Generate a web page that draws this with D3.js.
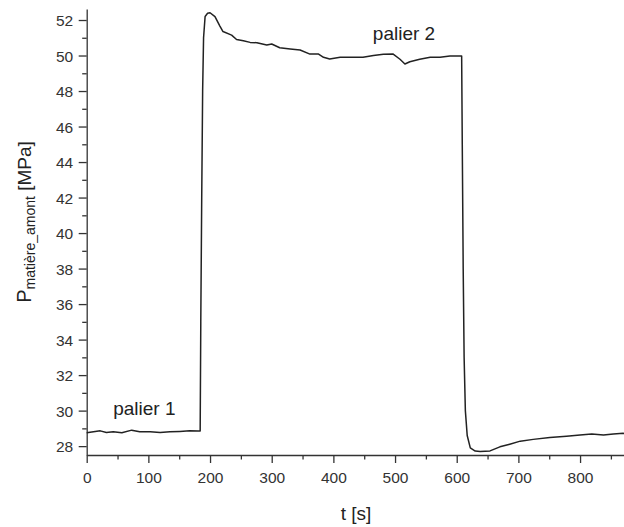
<!DOCTYPE html>
<html>
<head>
<meta charset="utf-8">
<script src="https://cdn.jsdelivr.net/npm/d3@7"></script>
<style>
  body { margin: 0; background: #fff; }
  svg { display: block; font-family: "Liberation Sans", Arial, sans-serif; }
  .axis path, .axis line { stroke: #333; stroke-width: 1.3; }
  .axis text { fill: #333; font-size: 15.5px; }
</style>
</head>
<body>
<svg id="chart" width="624" height="527"></svg>
<script>
// time [s]
var timeS = [0, 11, 22, 32, 43, 57, 73, 86, 103, 119, 135, 151, 167, 181, 184,
  185, 186.5, 188, 189.5, 192, 196, 200, 208, 216, 221, 235, 243, 254, 265, 276,
  292, 300, 313, 330, 346, 362, 376, 384, 394, 411, 432, 448, 465, 481, 497,
  508, 516, 524, 540, 557, 573, 589, 608, 609, 610.5, 612, 614, 617, 622, 630,
  638, 654, 670, 686, 703, 724, 751, 778, 800, 819, 838, 854, 870, 880];
// pressure [MPa]
var pressure = [28.75, 28.81, 28.86, 28.77, 28.81, 28.75, 28.9, 28.81, 28.81, 28.77, 28.81, 28.83, 28.86, 28.85, 28.85,
  35, 42, 48, 51, 52.2, 52.38, 52.41, 52.19, 51.66, 51.35, 51.15, 50.9, 50.83, 50.74, 50.72,
  50.59, 50.65, 50.44, 50.37, 50.31, 50.08, 50.08, 49.9, 49.8, 49.9, 49.9, 49.9, 50.0, 50.07, 50.08,
  49.79, 49.52, 49.65, 49.79, 49.9, 49.9, 49.97, 49.97, 45, 38, 33, 30, 28.6, 27.9, 27.72,
  27.7, 27.73, 27.96, 28.11, 28.28, 28.38, 28.49, 28.56, 28.62, 28.68, 28.62, 28.68, 28.72, 28.7];

var xMajor = [0, 100, 200, 300, 400, 500, 600, 700, 800];
var xMinor = [50, 150, 250, 350, 450, 550, 650, 750, 850];
var yMajor = [28, 30, 32, 34, 36, 38, 40, 42, 44, 46, 48, 50, 52];
var yMinor = [29, 31, 33, 35, 37, 39, 41, 43, 45, 47, 49, 51];

var labels = [
  { text: 'palier 1', t: 43, v: 29.75 },
  { text: 'palier 2', t: 464, v: 50.85 }
];

var svg = d3.select('#chart');
var plotLeft = 86.7, plotBottom = 455, plotTop = 9;

var x = d3.scaleLinear().domain([0, 880]).range([plotLeft, plotLeft + 880 * 0.6167]);
var y = d3.scaleLinear().domain([27.5, 52.62]).range([plotBottom, plotTop]);

svg.append('rect').attr('width', 624).attr('height', 527).attr('fill', '#fff');

// minor ticks first, then the major axis on top
svg.append('g').attr('class', 'axis')
  .attr('transform', `translate(0,${plotBottom})`)
  .call(d3.axisBottom(x).tickValues(xMinor).tickSize(4.5).tickSizeOuter(0).tickFormat(''))
  .call(g => g.select('.domain').remove());
var xAxis = svg.append('g').attr('class', 'axis')
  .attr('transform', `translate(0,${plotBottom})`)
  .call(d3.axisBottom(x).tickValues(xMajor).tickSize(8).tickSizeOuter(0).tickFormat(d3.format('d')));
xAxis.selectAll('text').attr('y', 28).attr('dy', 0);

svg.append('g').attr('class', 'axis')
  .attr('transform', `translate(${plotLeft},0)`)
  .call(d3.axisLeft(y).tickValues(yMinor).tickSize(4.5).tickSizeOuter(0).tickFormat(''))
  .call(g => g.select('.domain').remove());
var yAxis = svg.append('g').attr('class', 'axis')
  .attr('transform', `translate(${plotLeft},0)`)
  .call(d3.axisLeft(y).tickValues(yMajor).tickSize(8).tickSizeOuter(0).tickFormat(d3.format('d')));
yAxis.selectAll('text').attr('x', -13.5).attr('dy', '0.36em');

// the curve
var line = d3.line()
  .x((d, i) => x(timeS[i]))
  .y(d => y(d));
svg.append('path')
  .datum(pressure)
  .attr('fill', 'none')
  .attr('stroke', '#222')
  .attr('stroke-width', 1.5)
  .attr('stroke-linejoin', 'round')
  .attr('d', line);

svg.selectAll('.lbl')
  .data(labels)
  .enter().append('text')
  .attr('class', 'lbl')
  .attr('x', d => x(d.t))
  .attr('y', d => y(d.v))
  .attr('fill', '#222')
  .style('font-size', '19px')
  .text(d => d.text);

// axis titles
svg.append('text')
  .attr('x', 356)
  .attr('y', 520)
  .attr('text-anchor', 'middle')
  .attr('fill', '#222')
  .style('font-size', '19px')
  .text('t [s]');

var yTitle = svg.append('text')
  .attr('transform', 'translate(31,222) rotate(-90)')
  .attr('text-anchor', 'middle')
  .attr('fill', '#222')
  .style('font-size', '19px');
yTitle.append('tspan').style('font-size', '20px').text('P');
yTitle.append('tspan').attr('dy', 4).style('font-size', '14px').text('matière_amont');
yTitle.append('tspan').attr('dy', -4).text(' [MPa]');
</script>
</body>
</html>
